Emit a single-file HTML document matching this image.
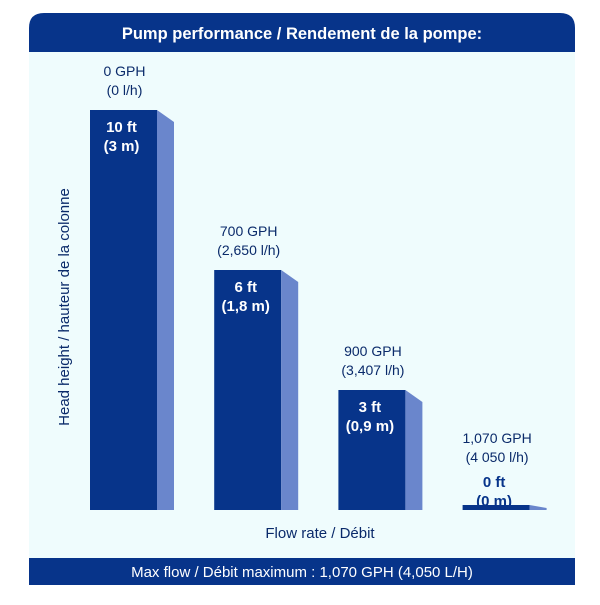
<!DOCTYPE html>
<html><head><meta charset="utf-8"><style>
body{margin:0;background:#fff;width:600px;height:600px;overflow:hidden;font-family:"Liberation Sans",sans-serif}
</style></head><body>
<svg width="600" height="600">
<path d="M29,52 V28 Q29,13 44,13 H560 Q575,13 575,28 V52 Z" fill="#07348a"/>
<rect x="29" y="52" width="546" height="506" fill="#effcfd"/>
<rect x="29" y="558" width="546" height="27" fill="#07348a"/>
<text x="302" y="39" text-anchor="middle" fill="#fff" font-weight="bold" font-size="16.5">Pump performance / Rendement de la pompe:</text>
<text x="302" y="577" text-anchor="middle" fill="#fff" font-size="15">Max flow / Débit maximum : 1,070 GPH (4,050 L/H)</text>
<text x="320" y="538" text-anchor="middle" fill="#0a2a6a" font-size="15">Flow rate / Débit</text>
<text transform="translate(69,307) rotate(-90)" text-anchor="middle" fill="#0a2a6a" font-size="15">Head height / hauteur de la colonne</text>
<g id="bars"></g>
</svg>
<script>
const flowGph=["0 GPH","700 GPH","900 GPH","1,070 GPH"];
const flowLh=["(0 l/h)","(2,650 l/h)","(3,407 l/h)","(4 050 l/h)"];
const headFt=[10,6,3,0];
const headLabelFt=["10 ft","6 ft","3 ft","0 ft"];
const headLabelM=["(3 m)","(1,8 m)","(0,9 m)","(0 m)"];
const NS="http://www.w3.org/2000/svg";
const g=document.getElementById('bars');
const baseY=510, pxPerFt=40;
function xPos(i){return 90+i*124.2;}
function yPos(v){return baseY-Math.max(v*pxPerFt,5);}
function mk(t,a){const e=document.createElementNS(NS,t);for(const k in a)e.setAttribute(k,a[k]);g.appendChild(e);return e;}
headFt.forEach((v,i)=>{
  const x=xPos(i), w=67, sw=17, top=yPos(v);
  const f=mk('rect',{x:x,y:top,width:w,height:baseY-top,fill:'#07348a'});
  
  
  const sl=Math.min(12,(baseY-top)-2);
  const s=mk('polygon',{points:`${x+w},${top} ${x+w+sw},${top+sl} ${x+w+sw},${baseY} ${x+w},${baseY}`,fill:'#6a86cc'});
  
  
  const cx=x+w/2+1;
  const ly=v>0?top:top-28;
  const t1=mk('text',{x:cx,y:ly-34,'text-anchor':'middle','font-size':'14',fill:'#0a2a6a'});t1.textContent=flowGph[i];
  
  
  const t2=mk('text',{x:cx,y:ly-15,'text-anchor':'middle','font-size':'14',fill:'#0a2a6a'});t2.textContent=flowLh[i];
  
  
  const inside=v>0;
  const col=inside?'#fff':'#07348a';
  const by=inside?top+22:top-18;
  const t3=mk('text',{x:cx-3,y:by,'text-anchor':'middle','font-size':'15','font-weight':'bold',fill:col});t3.textContent=headLabelFt[i];
  
  
  const t4=mk('text',{x:cx-3,y:by+19,'text-anchor':'middle','font-size':'15','font-weight':'bold',fill:col});t4.textContent=headLabelM[i];
  
  
});
</script>
</body></html>
